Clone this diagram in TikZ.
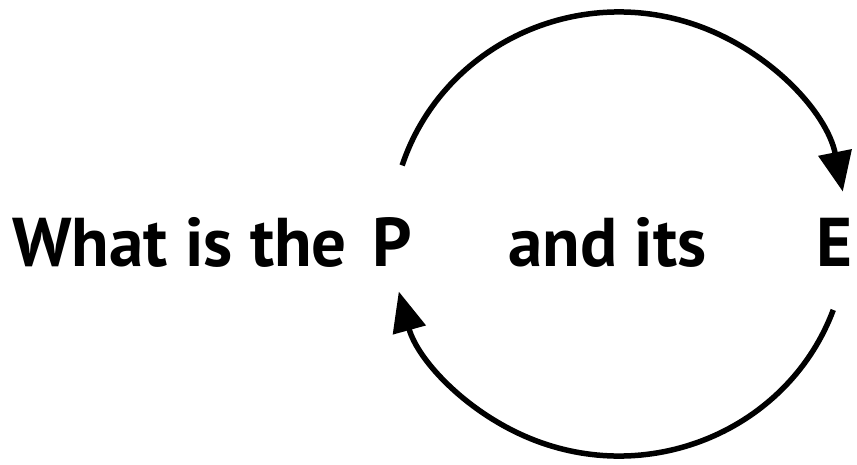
\documentclass[tikz,border=0pt]{standalone}
\usepackage{fontspec}
\setmainfont{PT Sans}
\usetikzlibrary{arrows.meta}
\begin{document}
\begin{tikzpicture}[x=1pt,y=1pt,
  lbl/.style={anchor=base west, inner sep=0pt, font=\fontsize{69}{74}\selectfont\bfseries},
  cyc/.style={line width=5.5pt, -{Triangle[length=40pt,width=33pt]}}]
\useasboundingbox (0,0) rectangle (857,464);
\node[lbl] (q) at (12,197) {What is the};
\node[lbl] (p) at (372,197) {P};
\node[lbl] (a) at (508,197) {and its};
\node[lbl] (e) at (816,197) {E};
\coordinate (c) at (619,230);
\path (c) ++(162:228pt and 222pt) coordinate (topstart);
\path (c) ++(-20:228pt and 222pt) coordinate (botstart);
\draw[cyc] (topstart) arc[start angle=162, end angle=11, x radius=228pt, y radius=222pt];
\draw[cyc] (botstart) arc[start angle=-20, end angle=-165, x radius=228pt, y radius=222pt];
\end{tikzpicture}
\end{document}
